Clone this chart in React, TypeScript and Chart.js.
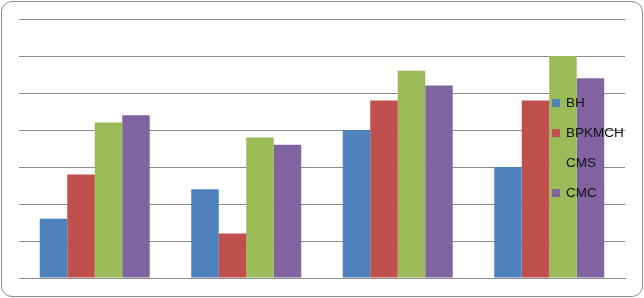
import React, { useEffect, useRef } from "react";
import { Chart, registerables } from "chart.js";

Chart.register(...registerables);

const categories = ["1", "2", "3", "4"];
const seriesNames = ["BH", "BPKMCH", "CMS", "CMC"];
const bhValues = [1.6, 2.4, 4.0, 3.0];
const bpkmchValues = [2.8, 1.2, 4.8, 4.8];
const cmsValues = [4.2, 3.8, 5.6, 6.0];
const cmcValues = [4.4, 3.6, 5.2, 5.4];
const seriesColors = ["#4F81BD", "#C0504D", "#9BBB59", "#8064A2"];

const legendPlugin = {
  id: "overlayLegend",
  afterDatasetsDraw(chart: any) {
    const ctx = chart.ctx;
    ctx.save();
    ctx.font = '13.5px "Liberation Sans", Arial, sans-serif';
    ctx.textBaseline = "middle";
    ctx.textAlign = "left";
    chart.data.datasets.forEach((ds: any, i: number) => {
      const cy = 103 + i * 30;
      ctx.fillStyle = ds.backgroundColor;
      ctx.fillRect(552, cy - 4, 8, 8);
      ctx.fillStyle = "#111";
      ctx.fillText(ds.label, 566, cy + 0.5);
    });
    ctx.restore();
  },
};

export default function App() {
  const ref = useRef<HTMLCanvasElement | null>(null);
  useEffect(() => {
    document.body.style.margin = "0";
    const all = [bhValues, bpkmchValues, cmsValues, cmcValues];
    const chart = new Chart(ref.current as HTMLCanvasElement, {
      type: "bar",
      data: {
        labels: categories,
        datasets: seriesNames.map((name, i) => ({
          label: name,
          data: all[i],
          backgroundColor: seriesColors[i],
          borderWidth: 0,
          categoryPercentage: 0.726,
          barPercentage: 1,
        })),
      },
      options: {
        animation: false,
        responsive: false,
        maintainAspectRatio: false,
        layout: { padding: { left: 19, top: 19, right: 19, bottom: 20 } },
        plugins: { legend: { display: false }, tooltip: { enabled: false } },
        scales: {
          x: {
            ticks: { display: false },
            grid: { display: false, drawTicks: false },
            border: { display: true, color: "#8c8c8c", width: 1 },
          },
          y: {
            min: 0,
            max: 7,
            ticks: { display: false, stepSize: 1 },
            grid: { color: "#8c8c8c", lineWidth: 1, drawTicks: false },
            border: { display: false },
          },
        },
      },
      plugins: [legendPlugin],
    });
    return () => chart.destroy();
  }, []);
  return (
    <div style={{ position: "relative", width: 644, height: 298, background: "#fff" }}>
      <canvas ref={ref} width={644} height={298} style={{ position: "absolute", left: 0, top: 0 }} />
      <div
        style={{
          position: "absolute",
          left: 0.5,
          top: 0.5,
          width: 642,
          height: 296,
          boxSizing: "border-box",
          border: "1.5px solid #8c8c8c",
          borderRadius: 11,
          pointerEvents: "none",
        }}
      />
    </div>
  );
}
